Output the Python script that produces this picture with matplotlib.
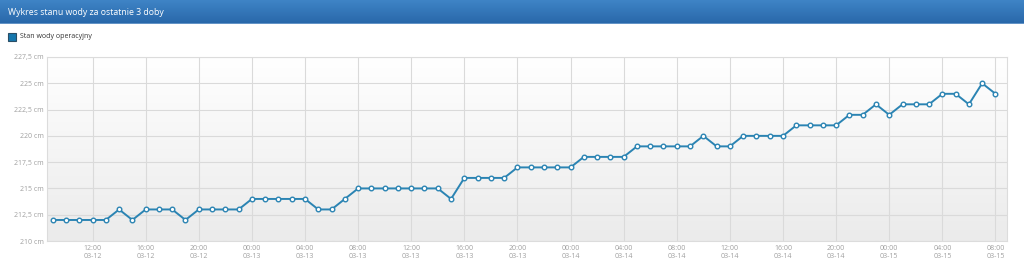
import numpy as np
import pandas as pd
import matplotlib
matplotlib.use("Agg")
import matplotlib.pyplot as plt
import matplotlib.dates as mdates
from matplotlib.ticker import FuncFormatter, MultipleLocator

# ---- data ----
title = "Wykres stanu wody za ostatnie 3 doby"
series_name = "Stan wody operacyjny"
start_time = "2024-03-12 09:00"
levels_03_12 = [212, 212, 212, 212, 212, 213, 212, 213, 213, 213, 212, 213, 213, 213, 213]
levels_03_13 = [214, 214, 214, 214, 214, 213, 213, 214, 215, 215, 215, 215, 215, 215, 215, 214,
                216, 216, 216, 216, 217, 217, 217, 217]
levels_03_14 = [217, 218, 218, 218, 218, 219, 219, 219, 219, 219, 220, 219, 219, 220, 220, 220,
                220, 221, 221, 221, 221, 222, 222, 223]
levels_03_15 = [222, 223, 223, 223, 224, 224, 223, 225, 224]
levels = levels_03_12 + levels_03_13 + levels_03_14 + levels_03_15
times = pd.date_range(start_time, periods=len(levels), freq="h")
y_min, y_max, y_step = 210, 227.5, 2.5

W, H = 1024, 276
fig = plt.figure(figsize=(W / 100, H / 100), dpi=100)
fig.patch.set_facecolor("white")
plt.rcParams["font.family"] = ["Open Sans", "DejaVu Sans"]

# ---- header bar ----
hdr_h = 24
hax = fig.add_axes([0, 1 - hdr_h / H, 1, hdr_h / H])
grad = np.linspace(0, 1, 64).reshape(-1, 1)
top_c = np.array([0x3f, 0x84, 0xc6]) / 255
bot_c = np.array([0x28, 0x67, 0xa9]) / 255
img = top_c * (1 - grad[..., None]) + bot_c * grad[..., None]
hax.imshow(img, aspect="auto", extent=[0, 1, 0, 1], origin="upper")
hax.set_xlim(0, 1); hax.set_ylim(0, 1)
hax.axis("off")
hax.axhline(0.02, color="#6f9ccc", lw=1.2)
hax.text(8 / W, 0.48, title, color="white", fontsize=6.3, va="center", ha="left",
         transform=hax.transAxes)

# ---- legend ----
fig.patches.append(matplotlib.patches.Rectangle((8 / W, 1 - 41 / H), 8 / W, 8 / H,
                   transform=fig.transFigure, facecolor="#1577ad", edgecolor="#2a4e66",
                   lw=0.8, figure=fig))
fig.text(20 / W, 1 - 37 / H, series_name, fontsize=5.0, color="#333333", va="center", ha="left")

# ---- plot ----
left, right, top, bottom = 47, 1007, 57, 241
ax = fig.add_axes([left / W, 1 - bottom / H, (right - left) / W, (bottom - top) / H])
pg = np.linspace(0, 1, 64).reshape(-1, 1)
pc_top = np.array([1.0, 1.0, 1.0])
pc_bot = np.array([0xeb, 0xeb, 0xeb]) / 255
pimg = pc_top * (1 - pg[..., None]) + pc_bot * pg[..., None]
ax.imshow(pimg, aspect="auto", extent=[0, 1, 0, 1], origin="upper",
          transform=ax.transAxes, zorder=0)

ax.plot(times, levels, color="#2b84b3", lw=1.4, zorder=3,
        marker="o", markersize=3.3, markerfacecolor="white",
        markeredgecolor="#2b84b3", markeredgewidth=1.0)

ax.set_xlim(times[0] - pd.Timedelta(hours=0.43), times[-1] + pd.Timedelta(hours=0.87))
ax.set_ylim(y_min, y_max)
ax.yaxis.set_major_locator(MultipleLocator(y_step))
ax.yaxis.set_major_formatter(FuncFormatter(lambda v, p: f"{v:g}".replace(".", ",") + " cm"))
ax.xaxis.set_major_locator(mdates.HourLocator(byhour=[0, 4, 8, 12, 16, 20]))
ax.xaxis.set_major_formatter(mdates.DateFormatter("%H:%M\n%m-%d"))
ax.tick_params(axis="both", length=0, labelsize=5.0, labelcolor="#a0a0a0")
ax.tick_params(axis="y", pad=2.2)
ax.tick_params(axis="x", pad=2.8)
for lbl in ax.get_xticklabels():
    lbl.set_linespacing(1.2)
ax.grid(True, color="#dadada", lw=0.8, zorder=1)
ax.set_axisbelow(True)
for s in ax.spines.values():
    s.set_color("#dcdcdc")
    s.set_linewidth(0.8)

fig.savefig("out.png", dpi=100, facecolor="white")
